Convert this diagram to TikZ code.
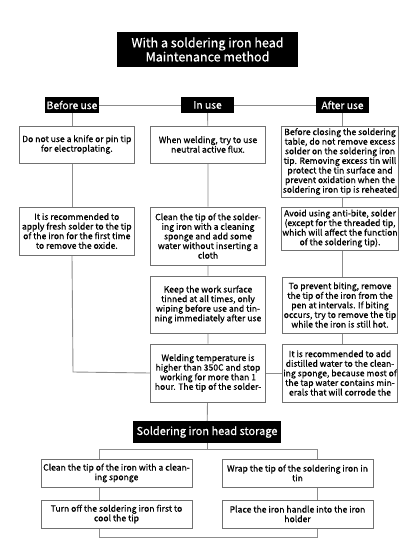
\documentclass[tikz,border=0pt]{standalone}
\usepackage{fontspec}
\setmainfont{Noto Sans CJK SC}[RawFeature={embolden=0.5}]
\usetikzlibrary{backgrounds}
\definecolor{lgray}{HTML}{8C8C8C}
\definecolor{bgray}{HTML}{707070}
\tikzset{
  box/.style={draw=bgray,fill=white,line width=0.9pt,align=center,minimum width=115pt,
    inner sep=1pt,font=\fontsize{8.6}{9.6}\selectfont},
  hbox/.style={fill=black,text=white,inner sep=1pt,minimum height=16pt,font=\fontsize{10.3}{11}\selectfont},
  sbox/.style={box,minimum width=151pt,minimum height=28pt},
  link/.style={draw=lgray,line width=0.9pt}
}
\begin{document}
\begin{tikzpicture}[x=1pt,y=-1pt]
  \useasboundingbox (0,0) rectangle (416,559);
  \node[fill=black,text=white,minimum width=181pt,minimum height=35pt,align=center,
    font=\fontsize{12.5}{12}\selectfont](title)at(207.5,49.5){With a soldering iron head\\Maintenance method};
  \node[hbox,minimum width=54pt](bef)at(72,105){Before use};
  \node[hbox,minimum width=53pt](inu)at(207.5,105){In use};
  \node[hbox,minimum width=53pt](aft)at(342.5,105){After use};
  % before use
  \node[box,minimum height=37pt](l1)at(76.8,144.5){Do not use a knife or pin tip\\for electroplating.};
  \node[box,minimum height=48pt](l2)at(76.8,231){It is recommended to\\apply fresh solder to the tip\\of the iron for the first time\\to remove the oxide.};
  % in use
  \node[box,minimum height=37pt](m1)at(208,144.5){When welding, try to use\\neutral active flux.};
  \node[box,minimum height=58pt](m2)at(208,236){Clean the tip of the solder-\\ing iron with a cleaning\\sponge and add some\\water without inserting a\\cloth};
  \node[box,minimum height=57pt](m3)at(208,304.5){Keep the work surface\\tinned at all times, only\\wiping before use and tin-\\ning immediately after use};
  \node[box,minimum height=58pt](m4)at(208,373){Welding temperature is\\higher than 350C and stop\\working for more than 1\\hour. The tip of the solder-};
  % after use
  \node[box,minimum height=71pt](r1)at(340,161.5){Before closing the soldering\\table, do not remove excess\\solder on the soldering iron\\tip. Removing excess tin will\\protect the tin surface and\\prevent oxidation when the\\soldering iron tip is reheated};
  \node[box,minimum height=43pt](r2)at(340,228.5){Avoid using anti-bite, solder\\(except for the threaded tip,\\which will affect the function\\of the soldering tip).};
  \node[box,minimum height=56pt](r3)at(340,305){To prevent biting, remove\\the tip of the iron from the\\pen at intervals. If biting\\occurs, try to remove the tip\\while the iron is still hot.};
  \node[box,minimum height=58pt](r4)at(340,373){It is recommended to add\\distilled water to the clean-\\ing sponge, because most of\\the tap water contains min-\\erals that will corrode the};
  % storage
  \node[fill=black,text=white,minimum width=144pt,minimum height=22pt,
    font=\fontsize{11}{12}\selectfont](st)at(207,432){Soldering iron head storage};
  \node[sbox](s1)at(116.5,473){Clean the tip of the iron with a clean-\\ing sponge};
  \node[sbox](s2)at(297.5,473){Wrap the tip of the soldering iron in\\tin};
  \node[sbox](s3)at(116.5,514){Turn off the soldering iron first to\\cool the tip};
  \node[sbox](s4)at(297.5,514){Place the iron handle into the iron\\holder};
  \coordinate(lt)at(99,449);
  \coordinate(rb)at(317,537);
  \coordinate(lx)at(73,372);
  \begin{scope}[on background layer]
    \draw[link](bef)--(inu)--(aft);
    \draw[link](bef.south)--(bef.south|-l1.north);
    \draw[link](bef.south|-l1.south)--(bef.south|-l2.north);
    \draw[link](bef.south|-l2.south)--(lx)--(m4.west);
    \draw[link](inu)--(m1)--(m2)--(m3)--(m4)--(st);
    \draw[link](aft.south)--(aft.south|-r1.north);
    \draw[link](aft.south|-r1.south)--(aft.south|-r2.north);
    \draw[link](aft.south|-r2.south)--(aft.south|-r3.north);
    \draw[link](aft.south|-r3.south)--(aft.south|-r4.north);
    \draw[link](r4.west)--(m4.east);
    \draw[link](st.south)--(st.south|-lt);
    \draw[link](lt)rectangle(rb);
  \end{scope}
\end{tikzpicture}
\end{document}
